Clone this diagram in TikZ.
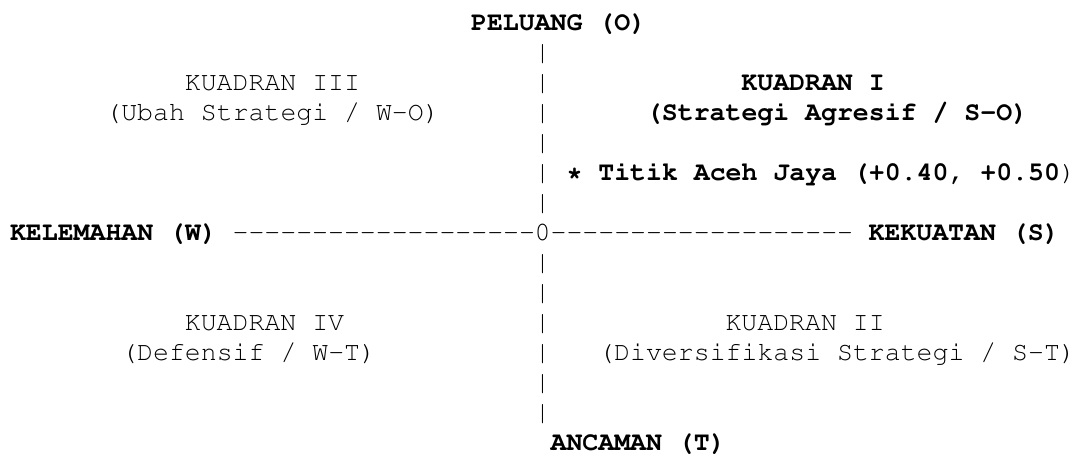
\documentclass[tikz,border=0pt]{standalone}
\usepackage[T1]{fontenc}
\usepackage{courier}
\tikzset{
  cell/.style={anchor=base west, inner sep=0pt, outer sep=0pt, font=\ttfamily\fontsize{19.9}{22.55}\selectfont},
  head/.style={cell, font=\ttfamily\bfseries\fontsize{19.9}{22.55}\selectfont},
}
% one row of the axis: 19 dashes, braces keep them apart
\newcommand{\axisdash}{-{}-{}-{}-{}-{}-{}-{}-{}-{}-{}-{}-{}-{}-{}-{}-{}-{}-{}-}

\begin{document}
\begin{tikzpicture}[x=11.925pt, y=-22.55pt]
  \useasboundingbox (0pt,0pt) rectangle (810pt,-342.75pt);
  \begin{scope}[shift={(7.5pt,-22.5pt)}]
    \node[head] (peluang) at (29,0) {PELUANG (O)};
    \foreach \r in {1,2,3,4,5,6,8,9,10,11,12,13}
      \node[cell] (bar\r) at (33,\r) {|};
    % upper quadrants
    \node[cell] (q3) at (11,2) {KUADRAN III};
    \node[cell] (q3sub) at (6,3) {(Ubah Strategi / W-O)};
    \node[head] (q1) at (46,2) {KUADRAN I};
    \node[head] (q1sub) at (40,3) {(Strategi Agresif / S-O)};
    \node[cell] (titik) at (35,5) {\textbf{* Titik Aceh Jaya (+0.40, +0.50})};
    % horizontal axis
    \node[head] (w) at (0,7) {KELEMAHAN (W)};
    \node[cell] (wdash) at (14,7) {\axisdash};
    \node[cell] (origin) at (33,7) {0};
    \node[cell] (sdash) at (34,7) {\axisdash};
    \node[head] (s) at (54,7) {KEKUATAN (S)};
    % lower quadrants
    \node[cell] (q4) at (11,10) {KUADRAN IV};
    \node[cell] (q4sub) at (7,11) {(Defensif / W-T)};
    \node[cell] (q2) at (45,10) {KUADRAN II};
    \node[cell] (q2sub) at (37,11) {(Diversifikasi Strategi / S-T)};
    \node[head] (ancaman) at (34,14) {ANCAMAN (T)};
  \end{scope}
\end{tikzpicture}
\end{document}
